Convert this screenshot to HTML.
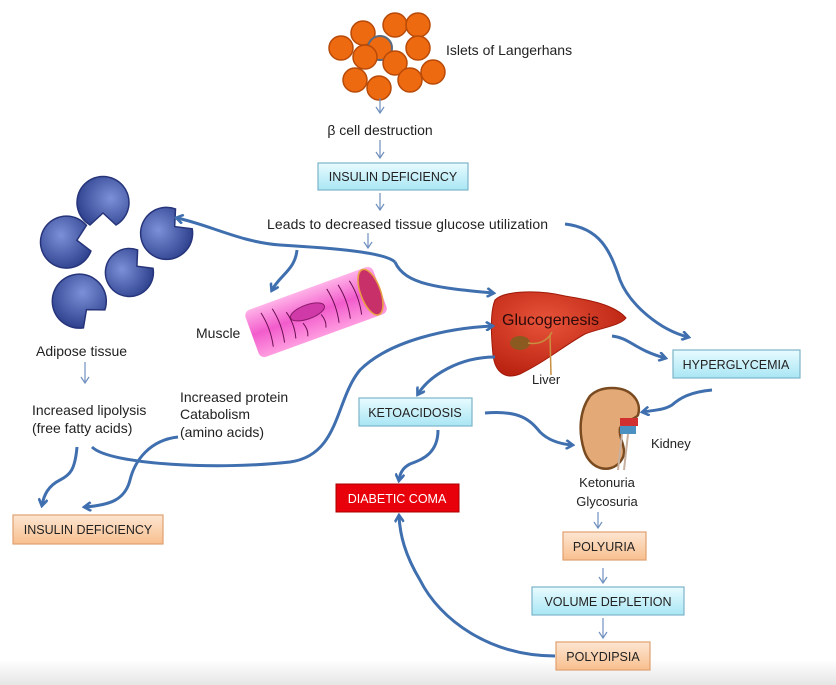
<!DOCTYPE html>
<html><head><meta charset="utf-8"><style>
html,body{margin:0;padding:0;background:#fff;}
svg{display:block;}
text{font-family:"Liberation Sans",sans-serif;fill:#222;}
</style></head><body>
<svg width="836" height="685" viewBox="0 0 836 685" xmlns="http://www.w3.org/2000/svg">
<defs>
<linearGradient id="cy" x1="0" y1="0" x2="0" y2="1"><stop offset="0" stop-color="#e8fbff"/><stop offset="1" stop-color="#a9e6f4"/></linearGradient>
<linearGradient id="pe" x1="0" y1="0" x2="0" y2="1"><stop offset="0" stop-color="#fde6d2"/><stop offset="1" stop-color="#f8bf8e"/></linearGradient>
<linearGradient id="bg" x1="0" y1="0" x2="0" y2="1"><stop offset="0" stop-color="#fff"/><stop offset="1" stop-color="#e6e6e6"/></linearGradient>
<radialGradient id="fat" cx="0.45" cy="0.35" r="0.7"><stop offset="0" stop-color="#7c90d8"/><stop offset="1" stop-color="#2c3f8c"/></radialGradient>
<radialGradient id="liv" cx="0.4" cy="0.35" r="0.7"><stop offset="0" stop-color="#e8543a"/><stop offset="1" stop-color="#b8200f"/></radialGradient>
<linearGradient id="mus" x1="0" y1="0" x2="0" y2="1"><stop offset="0" stop-color="#ffb3e8"/><stop offset="0.5" stop-color="#f25ccc"/><stop offset="1" stop-color="#ff9de0"/></linearGradient>
<marker id="ah" markerWidth="10" markerHeight="10" refX="7" refY="5" orient="auto" markerUnits="userSpaceOnUse"><path d="M1,0.5 L8,5 L1,9.5" fill="none" stroke="#3f6fae" stroke-width="2.6"/></marker>
<marker id="sa" markerWidth="10" markerHeight="10" refX="7" refY="5" orient="auto" markerUnits="userSpaceOnUse"><path d="M1,1 L7,5 L1,9" fill="none" stroke="#6f8fbf" stroke-width="1.2"/></marker>
</defs>
<rect x="0" y="660" width="836" height="25" fill="url(#bg)"/>

<!-- islets -->
<g fill="#ee6a10" stroke="#b84a08" stroke-width="1.5">
<circle cx="395" cy="25" r="12"/><circle cx="418" cy="25" r="12"/>
<circle cx="363" cy="33" r="12"/><circle cx="341" cy="48" r="12"/>
<circle cx="380" cy="48" r="12" stroke="#5a6a80" stroke-width="2"/>
<circle cx="418" cy="48" r="12"/><circle cx="365" cy="57" r="12"/>
<circle cx="395" cy="63" r="12"/><circle cx="355" cy="80" r="12"/>
<circle cx="410" cy="80" r="12"/><circle cx="433" cy="72" r="12"/>
<circle cx="379" cy="88" r="12"/>
</g>
<text x="446" y="55" font-size="14">Islets of Langerhans</text>

<!-- small arrows -->
<g stroke="#6f8fbf" stroke-width="1.2" marker-end="url(#sa)">
<line x1="380" y1="98" x2="380" y2="113"/>
<line x1="380" y1="140" x2="380" y2="158"/>
<line x1="380" y1="193" x2="380" y2="210"/>
<line x1="368" y1="233" x2="368" y2="248"/>
<line x1="85" y1="362" x2="85" y2="383"/>
<line x1="598" y1="512" x2="598" y2="528"/>
<line x1="603" y1="568" x2="603" y2="583"/>
<line x1="603" y1="618" x2="603" y2="638"/>
</g>
<text x="380" y="135" font-size="14" text-anchor="middle">β cell destruction</text>

<!-- boxes -->
<g stroke="#7db4c8" stroke-width="1.2">
<rect x="318" y="163" width="150" height="27" fill="url(#cy)"/>
<rect x="359" y="398" width="113" height="28" fill="url(#cy)"/>
<rect x="673" y="350" width="127" height="28" fill="url(#cy)"/>
<rect x="532" y="587" width="152" height="28" fill="url(#cy)"/>
</g>
<g stroke="#e0a070" stroke-width="1.2">
<rect x="13" y="515" width="150" height="29" fill="url(#pe)"/>
<rect x="563" y="532" width="83" height="28" fill="url(#pe)"/>
<rect x="556" y="642" width="94" height="28" fill="url(#pe)"/>
</g>
<rect x="336" y="484" width="123" height="28" fill="#e8000a" stroke="#a00" stroke-width="1"/>
<g font-size="12.5" text-anchor="middle">
<text x="393" y="181">INSULIN DEFICIENCY</text>
<text x="415" y="417">KETOACIDOSIS</text>
<text x="736" y="369">HYPERGLYCEMIA</text>
<text x="608" y="606">VOLUME DEPLETION</text>
<text x="88" y="534">INSULIN DEFICIENCY</text>
<text x="604" y="551">POLYURIA</text>
<text x="603" y="661">POLYDIPSIA</text>
<text x="397" y="503" style="fill:#fff">DIABETIC COMA</text>
</g>

<text x="267" y="229" font-size="14" textLength="281">Leads to decreased tissue glucose utilization</text>

<!-- adipose -->
<g fill="url(#fat)" stroke="#26347a" stroke-width="1.5">
<path transform="translate(103,203) rotate(90)" d="M10,0 L22,-13 A26 26 0 1 0 22,13 Z"/>
<path transform="translate(67,242) rotate(-10)" d="M10,0 L22,-13 A26 26 0 1 0 22,13 Z"/>
<path transform="translate(167,233) rotate(-40)" d="M10,0 L22,-13 A26 26 0 1 0 22,13 Z"/>
<path transform="translate(130,272) rotate(-40)" d="M9,0 L20,-12 A24 24 0 1 0 20,12 Z"/>
<path transform="translate(80,302) rotate(50)" d="M10,0 L22,-14 A27 27 0 1 0 22,14 Z"/>
</g>
<text x="36" y="356" font-size="14">Adipose tissue</text>
<text x="32" y="415" font-size="14">Increased lipolysis</text>
<text x="32" y="433" font-size="14">(free fatty acids)</text>
<text x="180" y="402" font-size="14">Increased protein</text>
<text x="180" y="419" font-size="14">Catabolism</text>
<text x="180" y="437" font-size="14">(amino acids)</text>

<!-- muscle -->
<g transform="translate(316,312) rotate(-20)">
<rect x="-68" y="-25" width="136" height="50" rx="6" fill="url(#mus)"/>
<ellipse cx="58" cy="0" rx="10" ry="24" fill="#c8306a" stroke="#e8a040" stroke-width="1.5"/>
<ellipse cx="-8" cy="-3" rx="18" ry="7" fill="#d03aa8" stroke="#8a1a6a"/>
<g stroke="#6a1050" stroke-width="1" fill="none">
<path d="M-52,-18 q4,18 0,36"/><path d="M-40,-18 q4,18 0,36"/><path d="M-28,-10 q4,14 0,28"/>
<path d="M-16,6 q3,8 0,14"/><path d="M4,4 q3,8 0,14"/><path d="M18,-18 q4,18 0,36"/>
<path d="M30,-18 q4,18 0,36"/><path d="M42,-18 q4,18 0,36"/>
</g>
</g>
<text x="196" y="338" font-size="14">Muscle</text>

<!-- liver -->
<path d="M495,300 C505,290 540,290 565,296 C590,300 615,305 626,318 C620,326 600,328 585,334 C565,345 545,362 520,374 C505,380 495,372 493,355 C491,335 490,312 495,300 Z" fill="url(#liv)" stroke="#a01808" stroke-width="1"/>
<ellipse cx="520" cy="343" rx="10" ry="7" fill="#8a5a20"/>
<path d="M528,343 C540,345 548,340 552,332 M550,335 L551,375" stroke="#c89040" stroke-width="1.5" fill="none"/>
<text x="502" y="325" font-size="16" style="fill:#2a0a0a">Glucogenesis</text>
<text x="532" y="384" font-size="13">Liver</text>

<!-- kidney -->
<path d="M612,388 C632,388 642,402 638,415 C635,420 625,420 620,428 C618,440 630,450 620,462 C610,474 590,470 584,450 C578,430 580,410 590,396 C596,390 604,388 612,388 Z" fill="#e3aa78" stroke="#7a4a20" stroke-width="2.5"/>
<rect x="620" y="418" width="18" height="8" fill="#d03030"/>
<rect x="620" y="426" width="16" height="8" fill="#4a90c0"/>
<path d="M622,434 L618,470 M628,434 L624,470" stroke="#c8b0a0" stroke-width="2" fill="none"/>
<text x="651" y="448" font-size="13">Kidney</text>
<text x="607" y="487" font-size="13" text-anchor="middle">Ketonuria</text>
<text x="607" y="506" font-size="13" text-anchor="middle">Glycosuria</text>

<!-- big arrows -->
<g fill="none" stroke="#3f6fae" stroke-width="3" marker-end="url(#ah)">
<path d="M395,262 C385,252 330,248 280,245 C240,242 210,225 177,218"/>
<path d="M395,262 C405,285 440,288 493,293"/>
<path d="M297,250 C295,270 280,275 272,290"/>
<path d="M565,224 C600,228 610,250 620,280 C630,305 660,330 688,337"/>
<path d="M92,447 C110,465 220,470 290,462 C340,455 335,400 360,370 C390,340 450,328 492,326"/>
<path d="M77,447 C75,470 70,475 60,480 C48,486 44,495 42,505"/>
<path d="M178,437 C150,440 135,460 130,480 C125,500 110,505 85,507"/>
<path d="M495,357 C460,357 430,375 418,394"/>
<path d="M612,336 C630,338 635,350 665,358"/>
<path d="M712,390 C690,392 680,398 672,405 C664,410 655,410 643,412"/>
<path d="M485,413 C520,410 530,420 540,432 C548,440 560,444 572,445"/>
<path d="M438,430 C438,455 420,460 410,464 C402,468 400,474 399,480"/>
<path d="M555,656 C490,656 440,620 420,580 C405,555 400,535 399,516"/>
</g>
</svg>
</body></html>
